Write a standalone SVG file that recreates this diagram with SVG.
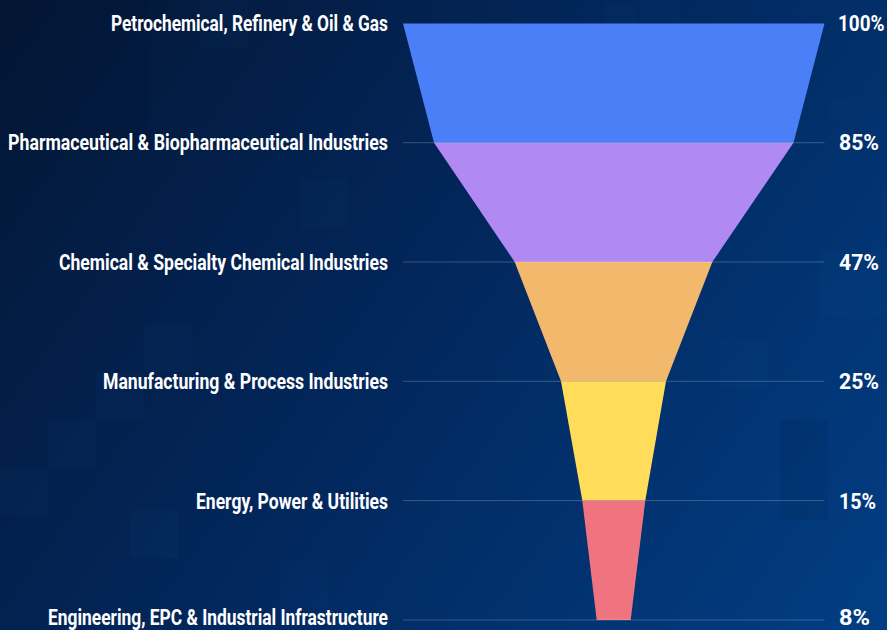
<svg xmlns="http://www.w3.org/2000/svg" width="887" height="630" viewBox="0 0 887 630">
  <defs>
    <linearGradient id="bg" x1="0" y1="0" x2="887" y2="630" gradientUnits="userSpaceOnUse">
      <stop offset="0" stop-color="#041634"/>
      <stop offset="0.45" stop-color="#02265a"/>
      <stop offset="1" stop-color="#023e84"/>
    </linearGradient>
    <style>
      .lbl { font-family: Roboto, "Liberation Sans", sans-serif; font-weight: 700; font-size: 22px; fill: #ffffff; }
      .l { text-anchor: end; }
      .grid { stroke: #ffffff; stroke-opacity: 0.22; stroke-width: 1; }
      .sq { fill: #2a6a9a; opacity: 0.05; }
      .sqd { fill: #000a20; opacity: 0.08; }
    </style>
  </defs>
  <rect width="887" height="630" fill="url(#bg)"/>
  <g id="texture">
    <rect class="sq" x="200" y="0" width="48" height="48"/>
    <rect class="sq" x="605" y="5" width="30" height="30"/>
    <rect class="sq" x="640" y="0" width="40" height="20"/>
    <rect class="sqd" x="0" y="0" width="150" height="150"/>
    <rect class="sq" x="48" y="420" width="48" height="48"/>
    <rect class="sq" x="96" y="372" width="48" height="48"/>
    <rect class="sq" x="144" y="324" width="48" height="48"/>
    <rect class="sq" x="0" y="468" width="48" height="48"/>
    <rect class="sq" x="130" y="510" width="48" height="48"/>
    <rect class="sq" x="280" y="560" width="48" height="48"/>
    <rect class="sq" x="820" y="250" width="67" height="67"/>
    <rect class="sq" x="720" y="340" width="48" height="48"/>
    <rect class="sq" x="830" y="100" width="20" height="20"/>
    <rect class="sqd" x="780" y="420" width="48" height="100"/>
    <rect class="sq" x="300" y="180" width="48" height="48"/>
  </g>
  <g id="funnel">
    <g id="seg1"><polygon points="403,23.5 824.5,23.5 793.5,142.7 434,142.7" fill="#4b7ff7"/></g>
    <g id="seg2"><polygon points="434,142.7 793.5,142.7 712.3,262 514.7,262" fill="#b08af2"/></g>
    <g id="seg3"><polygon points="514.7,262 712.3,262 666,381.3 561,381.3" fill="#f2b86c"/></g>
    <g id="seg4"><polygon points="561,381.3 666,381.3 645.3,500.6 582.3,500.6" fill="#ffdc5a"/></g>
    <g id="seg5"><polygon points="582.3,500.6 645.3,500.6 630.7,620 596.7,620" fill="#f0747f"/></g>
  </g>
  <g id="connectors">
    <line class="grid" x1="403" y1="142.7" x2="824.5" y2="142.7"/>
    <line class="grid" x1="403" y1="262" x2="824.5" y2="262"/>
    <line class="grid" x1="403" y1="381.3" x2="824.5" y2="381.3"/>
    <line class="grid" x1="403" y1="500.6" x2="824.5" y2="500.6"/>
    <line class="grid" x1="403" y1="620" x2="824.5" y2="620"/>
  </g>
  <g id="labels-left">
    <g id="n1"><text class="lbl l" x="388" y="30.5" textLength="277" lengthAdjust="spacingAndGlyphs">Petrochemical, Refinery &amp; Oil &amp; Gas</text></g>
    <g id="n2"><text class="lbl l" x="388" y="150.3" textLength="380" lengthAdjust="spacingAndGlyphs">Pharmaceutical &amp; Biopharmaceutical Industries</text></g>
    <g id="n3"><text class="lbl l" x="388" y="270.3" textLength="329" lengthAdjust="spacingAndGlyphs">Chemical &amp; Specialty Chemical Industries</text></g>
    <g id="n4"><text class="lbl l" x="388" y="389.3" textLength="285" lengthAdjust="spacingAndGlyphs">Manufacturing &amp; Process Industries</text></g>
    <g id="n5"><text class="lbl l" x="388" y="508.5" textLength="192" lengthAdjust="spacingAndGlyphs">Energy, Power &amp; Utilities</text></g>
    <g id="n6"><text class="lbl l" x="388" y="624.5" textLength="340" lengthAdjust="spacingAndGlyphs">Engineering, EPC &amp; Industrial Infrastructure</text></g>
  </g>
  <g id="labels-right">
    <text class="lbl" transform="translate(838,30.5) scale(0.86,1)" x="0" y="0">100%</text>
    <text class="lbl" x="839" y="150.3" textLength="40" lengthAdjust="spacingAndGlyphs">85%</text>
    <text class="lbl" x="839" y="270.3" textLength="40" lengthAdjust="spacingAndGlyphs">47%</text>
    <text class="lbl" x="839" y="389.3" textLength="40" lengthAdjust="spacingAndGlyphs">25%</text>
    <text class="lbl" x="839" y="508.5" textLength="37" lengthAdjust="spacingAndGlyphs">15%</text>
    <text class="lbl" x="839" y="624.5" textLength="31" lengthAdjust="spacingAndGlyphs">8%</text>
  </g>
</svg>
